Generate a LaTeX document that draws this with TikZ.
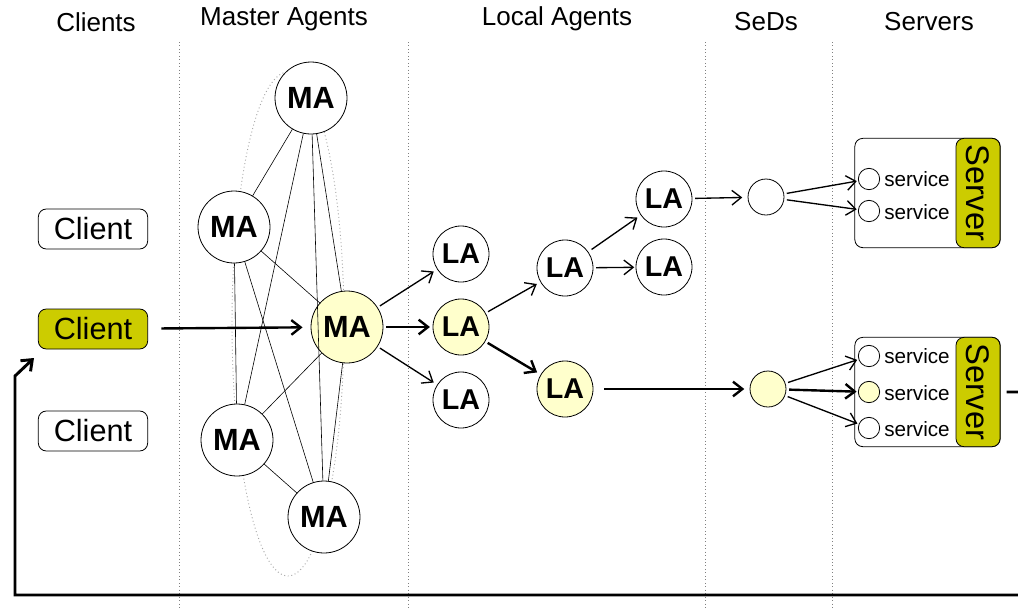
\documentclass[tikz,border=0pt]{standalone}
\usepackage{fontspec}
\setmainfont{Liberation Sans}
\usetikzlibrary{arrows.meta}
\definecolor{olive}{HTML}{CCCC00}
\definecolor{lightyel}{HTML}{FFFFCC}
\begin{document}
\begin{tikzpicture}[x=0.75pt,y=-0.75pt,
  hdr/.style={font=\fontsize{19.5}{22}\selectfont},
  clientbox/.style={draw, rounded corners=6pt, line width=0.6pt, minimum width=82pt, minimum height=30pt, inner sep=0pt, font=\fontsize{23}{26}\selectfont},
  manode/.style={draw, circle, line width=0.6pt, fill=white, minimum size=54pt, inner sep=0pt, font=\fontsize{23}{26}\selectfont\bfseries},
  lanode/.style={draw, circle, line width=0.6pt, fill=white, minimum size=42pt, inner sep=0pt, font=\fontsize{21.5}{24}\selectfont\bfseries},
  sednode/.style={draw, circle, line width=0.6pt, fill=white, minimum size=27pt, inner sep=0pt},
  svcnode/.style={draw, circle, line width=0.6pt, fill=white, minimum size=16pt, inner sep=0pt},
  svctext/.style={anchor=west, inner sep=0pt, font=\fontsize{15.5}{18}\selectfont},
  srvbox/.style={draw, rounded corners=6pt, line width=0.6pt, minimum width=109pt, minimum height=82pt, inner sep=0pt},
  srvlab/.style={draw, fill=olive, rounded corners=6pt, line width=0.6pt, minimum width=82pt, minimum height=33pt, inner sep=0pt, rotate=-90, font=\fontsize{24.5}{26}\selectfont},
  sep/.style={gray, dotted, line width=0.6pt},
  edge/.style={line width=0.45pt},
  arr/.style={line width=1pt, -{Straight Barb[length=7pt,width=11pt]}},
  tarr/.style={line width=1.8pt, -{Straight Barb[length=7pt,width=11pt]}}
]
\useasboundingbox (0,0) rectangle (1018,608);
\clip (0,0) rectangle (1018,608);
\fill[white] (0,0) rectangle (1018,608);

% separators
\coordinate (d1t) at (179,42); \coordinate (d1b) at (179,608);
\coordinate (d2t) at (408,42); \coordinate (d2b) at (408,608);
\coordinate (d3t) at (705,42); \coordinate (d3b) at (705,608);
\coordinate (d4t) at (832,42); \coordinate (d4b) at (832,608);
\draw[sep] (d1t) -- (d1b);
\draw[sep] (d2t) -- (d2b);
\draw[sep] (d3t) -- (d3b);
\draw[sep] (d4t) -- (d4b);

% headers
\node[hdr] (h1) at (96,22) {Clients};
\node[hdr] (h2) at (284,19) {Master Agents};
\node[hdr] (h3) at (557,19) {Local Agents};
\node[hdr] (h4) at (766,22) {SeDs};
\node[hdr] (h5) at (929,22) {Servers};

% clients
\node[clientbox] (c1) at (93,229) {Client};
\node[clientbox, fill=olive] (c2) at (93,329) {Client};
\node[clientbox] (c3) at (93,431) {Client};

% MA ellipse
\draw[gray!70, dotted, line width=0.7pt] (288,324) ellipse [x radius=56, y radius=252];

% MA coordinates and edges
\coordinate (p1) at (311,98);
\coordinate (p2) at (234,227);
\coordinate (p3) at (347,327);
\coordinate (p4) at (237,440);
\coordinate (p5) at (324,517);
\node[manode] (ma1) at (p1) {MA};
\node[manode] (ma2) at (p2) {MA};
\node[manode, fill=lightyel] (ma3) at (p3) {MA};
\node[manode] (ma4) at (p4) {MA};
\node[manode] (ma5) at (p5) {MA};
\draw[edge] (ma1) -- (ma2);
\draw[edge] (ma1) -- (ma3);
\draw[edge] (ma1) -- (ma4);
\draw[edge] (ma1) -- (ma5);
\draw[edge] (ma2) -- (ma3);
\draw[edge] (ma2) -- (ma4);
\draw[edge] (ma2) -- (ma5);
\draw[edge] (ma3) -- (ma4);
\draw[edge] (ma3) -- (ma5);
\draw[edge] (ma4) -- (ma5);

% LA nodes
\node[lanode] (la1) at (461,254) {LA};
\node[lanode, fill=lightyel] (la2) at (461,327) {LA};
\node[lanode] (la3) at (461,400) {LA};
\node[lanode] (la4) at (565,268) {LA};
\node[lanode, fill=lightyel] (la5) at (565,389) {LA};
\node[lanode] (la6) at (664,199) {LA};
\node[lanode] (la7) at (664,267) {LA};

% SeDs
\node[sednode] (sed1) at (766,197) {};
\node[sednode, fill=lightyel] (sed2) at (768,389) {};

% servers
\node[srvbox] (srv1) at (927.5,193) {};
\node[srvlab] (sl1) at (978,193) {Server};
\node[svcnode] (s11) at (869,179) {};
\node[svcnode] (s12) at (869,211) {};
\node[svctext] (t11) at (884,179) {service};
\node[svctext] (t12) at (884,212) {service};

\node[srvbox] (srv2) at (927.5,392) {};
\node[srvlab] (sl2) at (978,392) {Server};
\node[svcnode] (s21) at (869,356) {};
\node[svcnode, fill=lightyel] (s22) at (869,392) {};
\node[svcnode] (s23) at (869,428) {};
\node[svctext] (t21) at (884,356) {service};
\node[svctext] (t22) at (884,393) {service};
\node[svctext] (t23) at (884,429) {service};

% arrows
\draw[tarr, shorten <=10pt, shorten >=6pt] (c2) -- (ma3);
\draw[arr, shorten <=2pt, shorten >=3pt] (ma3) -- (la1);
\draw[tarr, shorten <=2pt, shorten >=2pt] (ma3) -- (la2);
\draw[arr, shorten <=2pt, shorten >=3pt] (ma3) -- (la3);
\draw[arr, shorten <=2pt, shorten >=3pt] (la2) -- (la4);
\draw[tarr, shorten <=2pt, shorten >=3pt] (la2) -- (la5);
\draw[arr, shorten <=3pt, shorten >=3pt] (la4) -- (la6);
\draw[arr, shorten <=2pt, shorten >=1pt] (la4) -- (la7);
\draw[arr, shorten <=2pt, shorten >=4pt] (la6) -- (sed1);
\draw[tarr, shorten <=8pt, shorten >=4pt] (la5) -- (sed2);
\draw[arr, shorten <=2pt, shorten >=1pt] (sed1) -- (s11);
\draw[arr, shorten <=2pt, shorten >=1pt] (sed1) -- (s12);
\draw[arr, shorten <=2pt, shorten >=1pt] (sed2) -- (s21);
\draw[tarr, shorten <=2pt, shorten >=1pt] (sed2) -- (s22);
\draw[arr, shorten <=2pt, shorten >=1pt] (sed2) -- (s23);

% feedback loop
\coordinate (lr) at (1030,595);
\coordinate (ll) at (15,595);
\coordinate (lu) at (15,376);
\coordinate (le) at (34,358);
\draw[line width=2.2pt, -{Straight Barb[length=7pt,width=11pt]}, line join=miter] (srv2.east) ++(6,0) -| (lr) -- (ll) -- (lu) -- (le);
\end{tikzpicture}
\end{document}
